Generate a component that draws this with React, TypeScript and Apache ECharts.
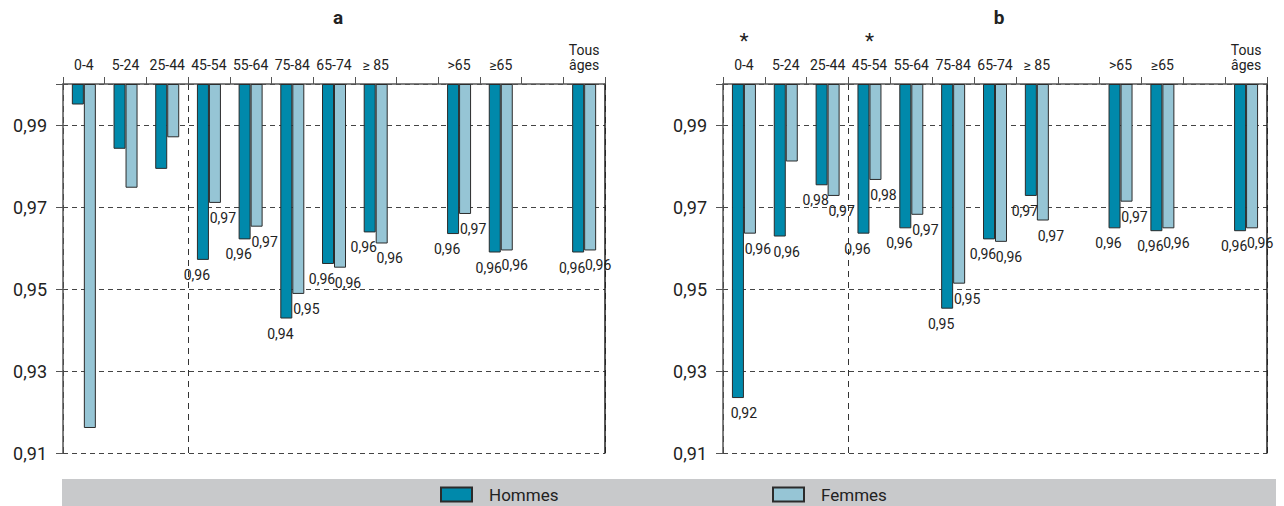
import React, { useEffect, useRef } from 'react';
import * as echarts from 'echarts';

// ---------- data ----------
const categories = ['0-4', '5-24', '25-44', '45-54', '55-64', '75-84', '65-74', '≥ 85', '', '>65', '≥65', '', 'Tous\nâges'];

// panel a
const hommesA = [0.995, 0.9842, 0.9793, 0.9571, 0.9621, 0.9428, 0.9561, 0.9638, null, 0.9634, 0.9589, null, 0.9589];
const femmesA = [0.9161, 0.9747, 0.987, 0.971, 0.9652, 0.9488, 0.9552, 0.9611, null, 0.9683, 0.9594, null, 0.9594];
const labelsA_H = [false, false, false, true, true, true, true, true, false, true, true, false, true];
const labelsA_F = [false, false, false, true, true, true, true, true, false, true, true, false, true];

// panel b
const hommesB = [0.9234, 0.9628, 0.9753, 0.9635, 0.9648, 0.9452, 0.9621, 0.9727, null, 0.9648, 0.9641, null, 0.9641];
const femmesB = [0.9635, 0.9811, 0.9727, 0.9766, 0.9681, 0.9513, 0.9615, 0.9667, null, 0.9713, 0.9648, null, 0.9648];
const labelsB_H = [true, true, true, true, true, true, true, true, false, true, true, false, true];
const labelsB_F = [true, false, true, true, true, true, true, true, false, true, true, false, true];
const starredB = [true, false, false, true, false, false, false, false, false, false, false, false, false];

const panelTitles = ['a', 'b'];
const seriesNames = ['Hommes', 'Femmes'];

const Y_MIN = 0.91;
const Y_MAX = 1;
const Y_STEP = 0.02;
const BASE = 1; // bars hang from 1

// ---------- styles ----------
const FONT = "Roboto, 'Liberation Sans', sans-serif";
const TEXT = '#222222';
const C_H = '#0089ab';
const C_F = '#96c5d5';
const BORDER = '#2b2b2b';
// horizontal nudges of individual value labels (style only), keyed by category index
const LABEL_SHIFT_B_H: Record<number, number> = { 0: 6, 1: 7 };

const fmt = (v: number) => v.toFixed(2).replace('.', ',');

type Val = number | null;

function panelSeries(
  panel: number,
  values: Val[],
  name: string,
  stack: string,
  color: string,
  labelShow: boolean[],
  offsetX: number,
  shifts: Record<number, number> = {}
) {
  return [
    {
      type: 'bar',
      name: name + ' base ' + panel,
      xAxisIndex: panel,
      yAxisIndex: panel * 2,
      stack: stack + panel,
      silent: true,
      barWidth: 12,
      barGap: '0%',
      itemStyle: { color: 'rgba(0,0,0,0)', borderWidth: 0 },
      label: { show: false },
      data: values.map((v) => (v == null ? null : v)),
    },
    {
      type: 'bar',
      name,
      xAxisIndex: panel,
      yAxisIndex: panel * 2,
      stack: stack + panel,
      barWidth: 12,
      barGap: '0%',
      itemStyle: { color, borderColor: BORDER, borderWidth: 1 },
      label: {
        show: true,
        position: 'bottom',
        distance: 8,
        offset: [offsetX, 0],
        fontFamily: FONT,
        fontSize: 14,
        color: TEXT,
        formatter: (p: any) => {
          const v = values[p.dataIndex];
          return v != null && labelShow[p.dataIndex] ? fmt(v) : '';
        },
      },
      data: values.map((v, i) => {
        if (v == null) return null;
        const item: any = { value: BASE - v };
        if (shifts[i] != null) item.label = { offset: [shifts[i], 0] };
        return item;
      }),
    },
  ];
}

const grids = [
  { left: 63, top: 84, width: 542, height: 369 },
  { left: 723, top: 84, width: 544, height: 369 },
];

function xAxis(panel: number) {
  return {
    type: 'category',
    gridIndex: panel,
    position: 'top',
    data: categories,
    axisLine: { show: true, onZero: false, lineStyle: { color: '#555', width: 1.5 } },
    axisTick: { show: true, interval: 0, length: 7, lineStyle: { color: '#555', width: 1 } },
    axisLabel: {
      interval: 0,
      margin: 12,
      fontFamily: FONT,
      fontSize: 14,
      lineHeight: 15,
      color: TEXT,
      formatter: (val: string, idx: number) =>
        panel === 1 && starredB[idx] ? `{star|*}\n${val}` : val,
      rich: {
        star: { fontFamily: FONT, fontSize: 21, lineHeight: 33, color: TEXT },
      },
    },
    splitLine: {
      show: true,
      interval: (idx: number) => idx === 0 || idx === 3,
      lineStyle: { color: '#333', width: 1, type: [6, 5] },
    },
  };
}

function yAxes(panel: number) {
  return [
    {
      type: 'value',
      gridIndex: panel,
      position: 'left',
      min: Y_MIN,
      max: Y_MAX,
      interval: Y_STEP,
      axisLine: { show: true, onZero: false, lineStyle: { color: '#555', width: 1.5 } },
      axisTick: { show: true, length: 7, lineStyle: { color: '#555' } },
      axisLabel: {
        margin: 16,
        fontFamily: FONT,
        fontSize: 18,
        color: TEXT,
        formatter: (v: number) => (v > 0.995 ? '' : fmt(v)),
      },
      splitLine: { show: true, lineStyle: { color: '#444', width: 1, type: [5, 4] } },
    },
    {
      type: 'value',
      gridIndex: panel,
      position: 'right',
      min: Y_MIN,
      max: Y_MAX,
      axisLine: { show: true, onZero: false, lineStyle: { color: '#222', width: 1.5 } },
      axisTick: { show: false },
      axisLabel: { show: false },
      splitLine: { show: false },
    },
  ];
}

const legendCommon = {
  top: 486,
  padding: 0,
  itemWidth: 31,
  itemHeight: 14,
  icon: 'rect',
  selectedMode: false,
  textStyle: { fontFamily: FONT, fontSize: 17, color: TEXT, padding: [0, 0, 0, 12] },
};

export default function App() {
  const ref = useRef<HTMLDivElement>(null);

  useEffect(() => {
    if (!ref.current) return;
    const chart = echarts.init(ref.current, undefined, { renderer: 'svg' });
    const option: any = {
      animation: false,
      backgroundColor: '#ffffff',
      title: panelTitles.map((t, i) => ({
        text: t,
        left: grids[i].left + grids[i].width / 2 + 4,
        top: 8,
        textAlign: 'center',
        padding: 0,
        textStyle: { fontFamily: FONT, fontSize: 19, fontWeight: 'bold', color: TEXT },
      })),
      graphic: [
        {
          type: 'rect',
          silent: true,
          z: 0,
          shape: { x: 62, y: 479, width: 1214, height: 27 },
          style: { fill: '#c8c9cb' },
        },
      ],
      legend: [
        { ...legendCommon, left: 440, data: [seriesNames[0]] },
        { ...legendCommon, left: 772, data: [seriesNames[1]] },
      ],
      grid: grids,
      xAxis: [xAxis(0), xAxis(1)],
      yAxis: [...yAxes(0), ...yAxes(1)],
      series: [
        ...panelSeries(0, hommesA, seriesNames[0], 'h', C_H, labelsA_H, -6),
        ...panelSeries(0, femmesA, seriesNames[1], 'f', C_F, labelsA_F, 8),
        ...panelSeries(1, hommesB, seriesNames[0], 'h', C_H, labelsB_H, -6, LABEL_SHIFT_B_H),
        ...panelSeries(1, femmesB, seriesNames[1], 'f', C_F, labelsB_F, 8),
      ],
    };
    chart.setOption(option);
    return () => chart.dispose();
  }, []);

  return (
    <div
      ref={ref}
      style={{ position: 'fixed', left: 0, top: 0, width: 1284, height: 506 }}
    />
  );
}
